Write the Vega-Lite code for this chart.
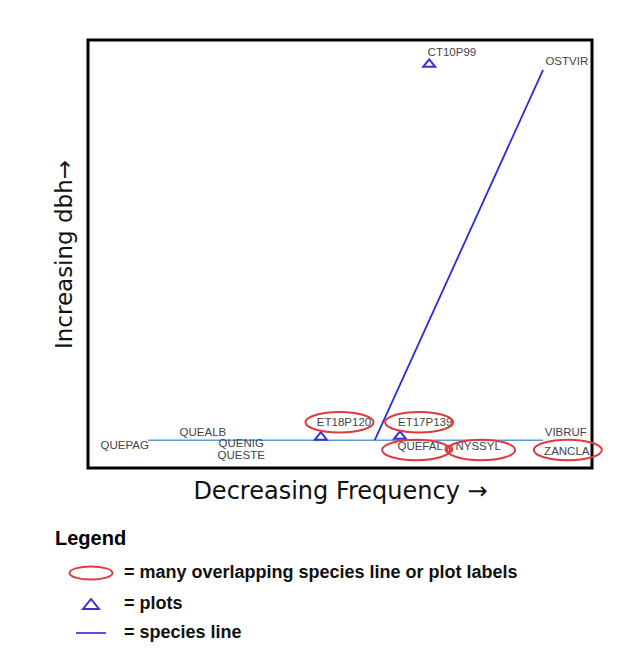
{
  "$schema": "https://vega.github.io/schema/vega-lite/v6.json",
  "width": 504,
  "height": 428,
  "autosize": {"type": "none"},
  "padding": {"left": 88, "top": 40, "right": 52, "bottom": 187},
  "background": "white",
  "config": {
    "view": {"stroke": "#000", "strokeWidth": 3},
    "font": "Liberation Sans"
  },
  "datasets": {
    "hline": [{"x": 11.9, "y": 6.5}, {"x": 90.3, "y": 6.5}],
    "dline": [{"x": 56.9, "y": 6.5}, {"x": 90.3, "y": 93.0}],
    "plots": [
      {"label": "ET18P120", "x": 46.2, "y": 7.5, "kind": "=  plots"},
      {"label": "ET17P139", "x": 61.9, "y": 7.7, "kind": "=  plots"},
      {"label": "CT10P99", "x": 67.7, "y": 94.6, "kind": "=  plots"}
    ],
    "ovals": [
      {"label": "ET18P120", "x": 49.9, "y": 10.7, "kind": "=  many overlapping species line or plot labels"},
      {"label": "ET17P139", "x": 65.7, "y": 10.7, "kind": "=  many overlapping species line or plot labels"},
      {"label": "QUEFAL", "x": 65.1, "y": 4.2, "kind": "=  many overlapping species line or plot labels"},
      {"label": "NYSSYL", "x": 78.0, "y": 4.2, "kind": "=  many overlapping species line or plot labels"},
      {"label": "ZANCLA", "x": 95.2, "y": 4.2, "kind": "=  many overlapping species line or plot labels"}
    ],
    "dots": [{"x": 71.6, "y": 4.4}],
    "labels": [
      {"text": "QUEPAG", "x": 7.3, "y": 5.1},
      {"text": "QUEALB", "x": 22.8, "y": 8.2},
      {"text": "QUENIG", "x": 30.4, "y": 5.6},
      {"text": "QUESTE", "x": 30.4, "y": 2.9},
      {"text": "ET18P120", "x": 50.8, "y": 10.5},
      {"text": "ET17P139", "x": 66.9, "y": 10.5},
      {"text": "QUEFAL", "x": 65.9, "y": 4.9},
      {"text": "NYSSYL", "x": 77.4, "y": 4.9},
      {"text": "VIBRUF", "x": 94.8, "y": 8.2},
      {"text": "ZANCLA", "x": 95.0, "y": 3.7},
      {"text": "CT10P99", "x": 72.2, "y": 97.0},
      {"text": "OSTVIR", "x": 95.0, "y": 94.9}
    ]
  },
  "layer": [
    {
      "data": {"name": "hline"},
      "mark": {"type": "line", "color": "#5b9bd5", "strokeWidth": 1.5},
      "encoding": {
        "x": {
          "field": "x", "type": "quantitative",
          "scale": {"domain": [0, 100], "nice": false, "zero": false},
          "axis": {
            "title": "Decreasing Frequency →", "labels": false, "ticks": false, "domain": false, "grid": false,
            "titleFont": "DejaVu Sans", "titleFontSize": 24, "titleFontWeight": "normal", "titleColor": "#111",
            "titlePadding": 11
          }
        },
        "y": {
          "field": "y", "type": "quantitative",
          "scale": {"domain": [0, 100], "nice": false, "zero": false},
          "axis": {
            "title": "Increasing dbh→", "labels": false, "ticks": false, "domain": false, "grid": false,
            "titleFont": "DejaVu Sans", "titleFontSize": 23, "titleFontWeight": "normal", "titleColor": "#111",
            "titlePadding": 12
          }
        }
      }
    },
    {
      "data": {"name": "dline"},
      "mark": {"type": "line", "color": "#2b2bd9", "strokeWidth": 1.8},
      "encoding": {
        "x": {"field": "x", "type": "quantitative"},
        "y": {"field": "y", "type": "quantitative"}
      }
    },
    {
      "data": {"name": "labels"},
      "mark": {"type": "text", "font": "Liberation Sans", "fontSize": 11.5, "color": "#444", "align": "center", "baseline": "middle"},
      "encoding": {
        "x": {"field": "x", "type": "quantitative"},
        "y": {"field": "y", "type": "quantitative"},
        "text": {"field": "text"}
      }
    },
    {
      "data": {"name": "plots"},
      "mark": {"type": "point", "filled": false, "strokeWidth": 2, "size": 225, "opacity": 1},
      "encoding": {
        "x": {"field": "x", "type": "quantitative"},
        "y": {"field": "y", "type": "quantitative"},
        "shape": {
          "field": "kind", "type": "nominal",
          "scale": {
            "domain": ["=  many overlapping species line or plot labels", "=  plots", "=  species line"],
            "range": ["M-2.15,0 A2.15,0.65 0 1,1 2.15,0 A2.15,0.65 0 1,1 -2.15,0 Z", "M0,-0.5 L0.8,0.5 L-0.8,0.5 Z", "M-1.5,0 L1.5,0"]
          },
          "legend": {
            "title": "Legend", "orient": "none", "legendX": -33, "legendY": 489, "padding": 0,
            "titleFont": "Liberation Sans", "titleFontSize": 20, "titleFontWeight": "bold", "titleColor": "#000", "titlePadding": 13,
            "labelFont": "Liberation Sans", "labelFontSize": 18, "labelFontWeight": "bold", "labelColor": "#111", "labelLimit": 600,
            "symbolSize": 400, "symbolStrokeWidth": 2, "symbolOffset": 25, "labelOffset": 22, "rowPadding": 9
          }
        },
        "stroke": {
          "field": "kind", "type": "nominal",
          "scale": {
            "domain": ["=  many overlapping species line or plot labels", "=  plots", "=  species line"],
            "range": ["#e03a3e", "#3a32d0", "#5a4fd8"]
          },
          "legend": {
            "title": "Legend", "orient": "none", "legendX": -33, "legendY": 489, "padding": 0,
            "titleFont": "Liberation Sans", "titleFontSize": 20, "titleFontWeight": "bold", "titleColor": "#000", "titlePadding": 13,
            "labelFont": "Liberation Sans", "labelFontSize": 18, "labelFontWeight": "bold", "labelColor": "#111", "labelLimit": 600,
            "symbolSize": 400, "symbolStrokeWidth": 2, "symbolOffset": 25, "labelOffset": 22, "rowPadding": 9
          }
        }
      }
    },
    {
      "data": {"name": "ovals"},
      "mark": {"type": "point", "filled": false, "strokeWidth": 2, "size": 1000, "opacity": 1},
      "encoding": {
        "x": {"field": "x", "type": "quantitative"},
        "y": {"field": "y", "type": "quantitative"},
        "shape": {"field": "kind", "type": "nominal"},
        "stroke": {"field": "kind", "type": "nominal"}
      }
    },
    {
      "data": {"name": "dots"},
      "mark": {"type": "point", "shape": "circle", "filled": false, "strokeWidth": 2, "size": 45, "color": "#e03a3e", "opacity": 1},
      "encoding": {
        "x": {"field": "x", "type": "quantitative"},
        "y": {"field": "y", "type": "quantitative"}
      }
    }
  ]
}
